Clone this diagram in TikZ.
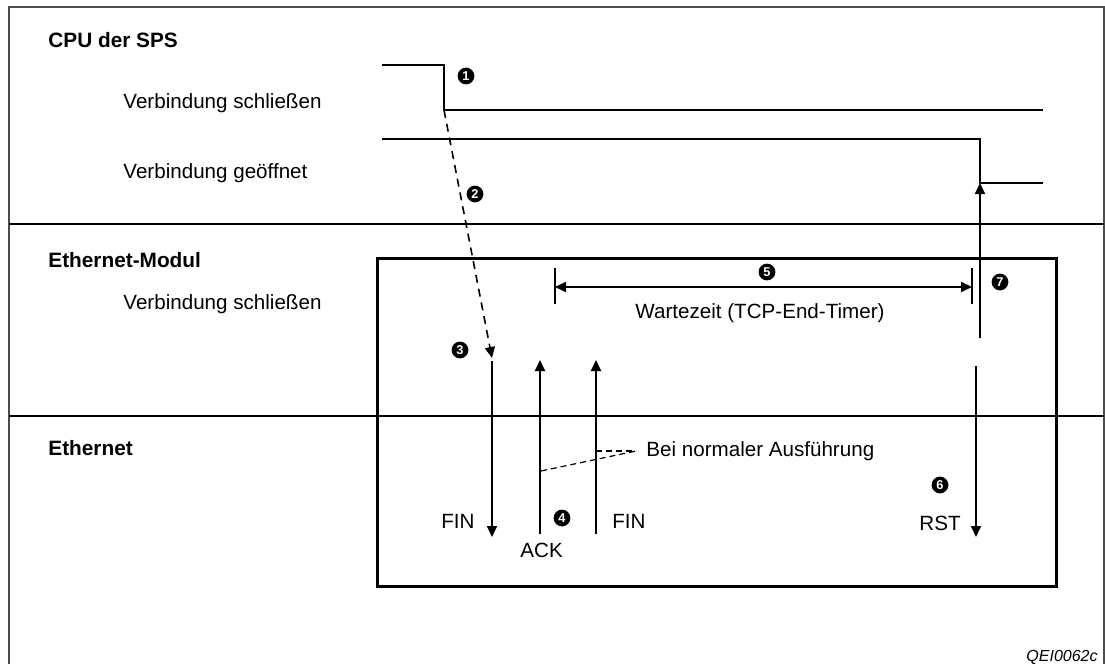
\documentclass[tikz,border=0pt]{standalone}
\usepackage{fontspec}
\setmainfont{Liberation Sans}
\usetikzlibrary{arrows.meta,positioning,calc}

\begin{document}
\begin{tikzpicture}[x=0.5pt, y=-0.5pt,
    lbl/.style={font=\fontsize{10.3}{12}\selectfont, anchor=base west, inner sep=0pt},
    head/.style={font=\fontsize{10.4}{12}\selectfont\bfseries, anchor=base west, inner sep=0pt},
    num/.style={circle, fill=black, text=white, inner sep=0pt, minimum size=8.4pt, font=\fontsize{6.4}{6.4}\selectfont\bfseries},
    frm/.style={line width=0.7pt, black!70},
    sepline/.style={line width=1pt},
    box/.style={line width=1.5pt},
    sig/.style={line width=0.7pt},
    msg/.style={-{Triangle[length=5.5pt,width=5pt]}, line width=0.9pt},
    req/.style={-{Triangle[length=5.5pt,width=5pt]}, line width=0.8pt, dash pattern=on 4pt off 3pt},
    dim/.style={{Triangle[length=5.5pt,width=5pt]}-{Triangle[length=5.5pt,width=5pt]}, line width=0.9pt},
    callout/.style={line width=0.6pt, dash pattern=on 3pt off 2pt},
]

\useasboundingbox (0,0) rectangle (1105,664);

% frame and rows
\draw[frm] (9,664) -- (9,7) -- (1104,7) -- (1104,664);
\draw[sepline] (9,224) -- (1104,224);
\draw[sepline] (9,416) -- (1104,416);
\draw[box] (377,258) rectangle (1056,586);

% row labels
\node[head] (cpu) at (48,47) {CPU der SPS};
\node[lbl] (close1) at (123,108) {Verbindung schließen};
\node[lbl] (open1) at (123,178) {Verbindung geöffnet};
\node[head] (mod) at (48,267) {Ethernet-Modul};
\node[lbl] (close2) at (123,309) {Verbindung schließen};
\node[head] (eth) at (48,455) {Ethernet};

% CPU signals
\coordinate (c1a) at (382,65);
\coordinate (c1b) at (444,65);
\coordinate (c1c) at (444,110);
\coordinate (c1d) at (1043,110);
\draw[sig] (c1a) -- (c1b) -- (c1c) -- (c1d);

\coordinate (o1a) at (382,139);
\coordinate (o1b) at (980,139);
\coordinate (o1c) at (980,183);
\coordinate (o1d) at (1043,183);
\draw[sig] (o1a) -- (o1b) -- (o1c) -- (o1d);

% request to the module
\coordinate (fin1top) at (492,358);
\draw[req] (c1c) -- (fin1top);

% messages
\coordinate (fin1s) at (492,361);
\coordinate (fin1e) at (492,537);
\coordinate (acks) at (540,534);
\coordinate (acke) at (540,360);
\coordinate (fin2s) at (596,534);
\coordinate (fin2e) at (596,360);
\coordinate (rsts) at (976,366);
\coordinate (rste) at (976,537);
\coordinate (okstart) at (980,338);
\draw[msg] (fin1s) -- (fin1e);
\draw[msg] (acks) -- (acke);
\draw[msg] (fin2s) -- (fin2e);
\draw[msg] (rsts) -- (rste);
\draw[msg] (okstart) -- (o1c);

\node[lbl] (fin1) at (441,528) {FIN};
\node[lbl] (ack) at (520,557) {ACK};
\node[lbl] (fin2) at (612,528) {FIN};
\node[lbl] (rst) at (919,530) {RST};

% waiting time
\coordinate (wl) at (555,287);
\coordinate (wr) at (972,287);
\draw[line width=0.9pt] (555,268) -- (555,304);
\draw[line width=0.9pt] (972,268) -- (972,304);
\draw[dim] (wl) -- (wr);
\node[lbl, anchor=base] (wait) at (760,318) {Wartezeit (TCP-End-Timer)};

% normal case
\node[lbl] (normal) at (646,456) {Bei normaler Ausführung};
\coordinate (nrm) at (636,451);
\coordinate (ackmid) at (541,471);
\coordinate (finmid) at (596,451);
\draw[callout] (ackmid) -- (nrm);
\draw[callout, line width=0.9pt] (finmid) -- (nrm);

% step numbers
\node[num] (n1) at (466,76) {1};
\node[num] (n2) at (475,194) {2};
\node[num] (n3) at (460,350) {3};
\node[num] (n4) at (562,518) {4};
\node[num] (n5) at (767,272) {5};
\node[num] (n6) at (940,485) {6};
\node[num] (n7) at (1000,282) {7};

\node[font=\fontsize{8}{10}\selectfont\itshape, anchor=base east, inner sep=0pt] (code) at (1098,661) {QEI0062c};

\end{tikzpicture}
\end{document}
